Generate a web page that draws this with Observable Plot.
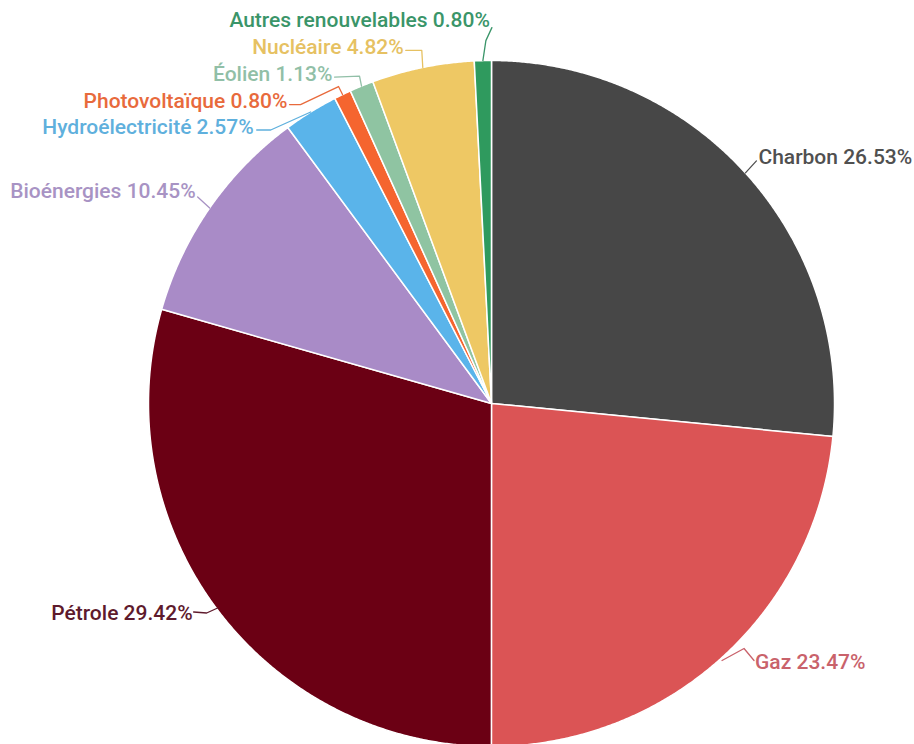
<!DOCTYPE html>
<html>
<head>
<meta charset="utf-8">
<script src="https://cdn.jsdelivr.net/npm/d3@7"></script>
<script src="https://cdn.jsdelivr.net/npm/@observablehq/plot@0.6"></script>
<style>
  html, body { margin: 0; padding: 0; background: #fff; }
  #chart svg { display: block; }
</style>
</head>
<body>
<div id="chart"></div>
<script>
// ---- data ----
const categories = ["Charbon", "Gaz", "Pétrole", "Bioénergies", "Hydroélectricité", "Photovoltaïque", "Éolien", "Nucléaire", "Autres renouvelables"];
const values = [26.53, 23.47, 29.42, 10.45, 2.57, 0.80, 1.13, 4.82, 0.80];
const sliceColors = ["#474747", "#db5455", "#6b0014", "#a98bc7", "#5ab4ea", "#f5652f", "#8fc4a2", "#eec864", "#2f9a5e"];
const textColors = ["#505050", "#c9626b", "#5e1a2c", "#a893c4", "#5fb0dd", "#e86a3c", "#91bfa7", "#e6c162", "#3a9569"];

// ---- label layout (pixel offsets from the slice's outer mid-point) ----
const labelText = [[13, -16, "start"], [33, 5, "start"], [-25, 3, "end"], [-14, -17, "end"], [-57, 15, "end"], [-55, 7, "end"], [-29, -12, "end"], [-19, -20, "end"], [7, -40, "end"]];
const leaderPaths = [
  [[0, 0], [11, -12]],
  [[0, 3], [22, -9], [32, 3]],
  [[0, -2], [-11, 3], [-24, 2]],
  [[0, 0], [-12, -11]],
  [[0, 0], [-40, 18], [-54, 18]],
  [[0, 0], [-4, -8], [-42, 10], [-53, 10]],
  [[0, 0], [-2, -10], [-27, -9]],
  [[0, 0], [-1, -17], [-17, -17]],
  [[0, 0], [3, -20], [9, -33]]
];

const R = 343; // pixels per data unit (pie radius)
const total = d3.sum(values);
let acc = 0;
const slices = categories.map((c, i) => {
  const a0 = acc / total * 2 * Math.PI;
  acc += values[i];
  const a1 = acc / total * 2 * Math.PI;
  return {category: c, value: values[i], a0, a1, mid: (a0 + a1) / 2, color: sliceColors[i], textColor: textColors[i], i};
});

// slice polygons
const polyPts = [];
for (const s of slices) {
  polyPts.push({category: s.category, x: 0, y: 0, color: s.color});
  const n = Math.max(4, Math.ceil((s.a1 - s.a0) / 0.005));
  for (let k = 0; k <= n; k++) {
    const a = s.a0 + (s.a1 - s.a0) * k / n;
    polyPts.push({category: s.category, x: Math.sin(a), y: Math.cos(a), color: s.color});
  }
  polyPts.push({category: s.category, x: 0, y: 0, color: s.color});
}

// leader lines and labels
const leaderPts = [];
const labelPts = [];
for (const s of slices) {
  const ax = Math.sin(s.mid), ay = Math.cos(s.mid);
  for (const [dx, dy] of leaderPaths[s.i]) {
    leaderPts.push({category: s.category, x: ax + dx / R, y: ay - dy / R, color: s.textColor});
  }
  const [tx, ty, anchor] = labelText[s.i];
  labelPts.push({
    text: `${s.category} ${s.value.toFixed(2)}%`,
    x: ax + tx / R, y: ay - ty / R, color: s.textColor, anchor
  });
}

const chart = Plot.plot({
  width: 914,
  height: 744,
  margin: 0,
  style: {background: "#fff", fontFamily: "Roboto, sans-serif", overflow: "visible"},
  x: {domain: [-1, 1], range: [148, 834], axis: null},
  y: {domain: [-1, 1], range: [746, 60], axis: null},
  color: {type: "identity"},
  marks: [
    Plot.line(polyPts, {x: "x", y: "y", z: "category", fill: "color", stroke: "#ffffff", strokeWidth: 1.5, strokeLinejoin: "round", curve: "linear-closed"}),
    Plot.line(leaderPts, {x: "x", y: "y", z: "category", stroke: "color", strokeWidth: 1.3, curve: "linear"}),
    Plot.text(labelPts.filter(d => d.anchor === "start"), {x: "x", y: "y", text: "text", fill: "color", textAnchor: "start", fontSize: 21, fontWeight: 500, lineAnchor: "middle"}),
    Plot.text(labelPts.filter(d => d.anchor === "end"), {x: "x", y: "y", text: "text", fill: "color", textAnchor: "end", fontSize: 21, fontWeight: 500, lineAnchor: "middle"})
  ]
});
document.getElementById("chart").appendChild(chart);
</script>
</body>
</html>
